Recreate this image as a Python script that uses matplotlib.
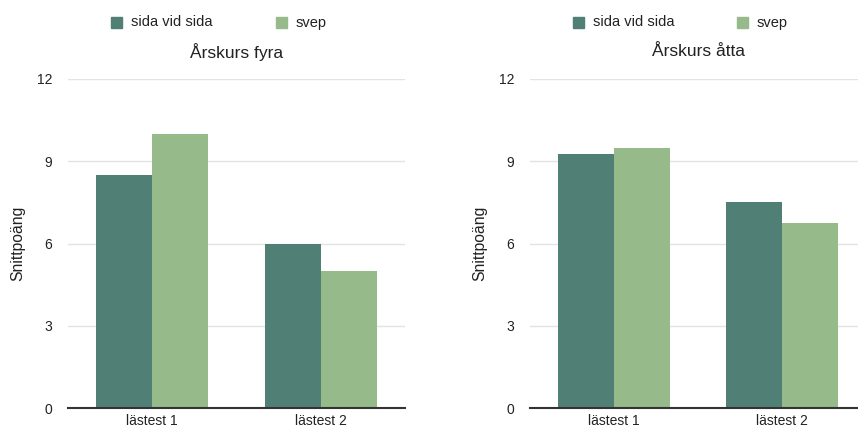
import numpy as np
import matplotlib
matplotlib.use("Agg")
import matplotlib.pyplot as plt
from matplotlib.patches import Rectangle

# data
categories = ["lästest 1", "lästest 2"]
series_names = ["sida vid sida", "svep"]
fyra_sida = [8.5, 6.0]
fyra_svep = [10.0, 5.0]
atta_sida = [9.25, 7.5]
atta_svep = [9.5, 6.75]
titles = ["Årskurs fyra", "Årskurs åtta"]
yticks = [0, 3, 6, 9, 12]

col_dark = "#507f76"
col_light = "#96ba89"

plt.rcParams["font.family"] = ["Liberation Sans", "DejaVu Sans"]

W, H = 858, 428
fig = plt.figure(figsize=(W / 100, H / 100), dpi=100)

def px_axes(x0, x1, y0, y1):
    # pixel box -> figure fraction
    return fig.add_axes([x0 / W, 1 - y1 / H, (x1 - x0) / W, (y1 - y0) / H])

panels = [
    (68, 405, fyra_sida, fyra_svep, titles[0], 18),
    (530, 866, atta_sida, atta_svep, titles[1], 480),
]

for x0, x1, sida, svep, title, ylab_x in panels:
    ax = px_axes(x0, x1, 79, 408)
    x = np.arange(len(categories))
    bw = 0.333
    ax.bar(x - bw / 2, sida, width=bw, color=col_dark, zorder=3)
    ax.bar(x + bw / 2, svep, width=bw, color=col_light, zorder=3)
    ax.set_xlim(-0.5, 1.5)
    ax.set_ylim(0, 12)
    ax.set_yticks(yticks)
    ax.set_yticklabels([str(t) for t in yticks], fontsize=10, color="#222222")
    ax.set_xticks(x)
    ax.set_xticklabels(categories, fontsize=10, color="#222222")
    ax.tick_params(length=0, pad=4.5)
    ax.tick_params(axis="y", pad=11.5)
    ax.grid(axis="y", color="#e3e3e3", linewidth=1, zorder=0)
    for s in ["top", "right", "left"]:
        ax.spines[s].set_visible(False)
    ax.spines["bottom"].set_color("#333333")
    ax.spines["bottom"].set_linewidth(1.5)
    ax.spines["bottom"].set_zorder(4)
    fig.text(ylab_x / W, 1 - 243.5 / H, "Snittpoäng", rotation=90, fontsize=11.3,
             ha="center", va="center", color="#222222")
    fig.text((x0 + x1) / 2 / W, 1 - 52 / H, title, fontsize=12.5,
             ha="center", va="center", color="#222222")

# legends
def legend_item(sq_x, txt_x, color, label):
    fig.patches.append(Rectangle((sq_x / W, 1 - 28 / H), 11 / W, 11 / H,
                                 transform=fig.transFigure, color=color))
    fig.text(txt_x / W, 1 - 22.5 / H, label, fontsize=10.5, ha="left", va="center",
             color="#222222")

legend_item(111, 131, col_dark, series_names[0])
legend_item(276, 296, col_light, series_names[1])
legend_item(573, 593, col_dark, series_names[0])
legend_item(737, 757, col_light, series_names[1])

fig.savefig("out.png", dpi=100)
